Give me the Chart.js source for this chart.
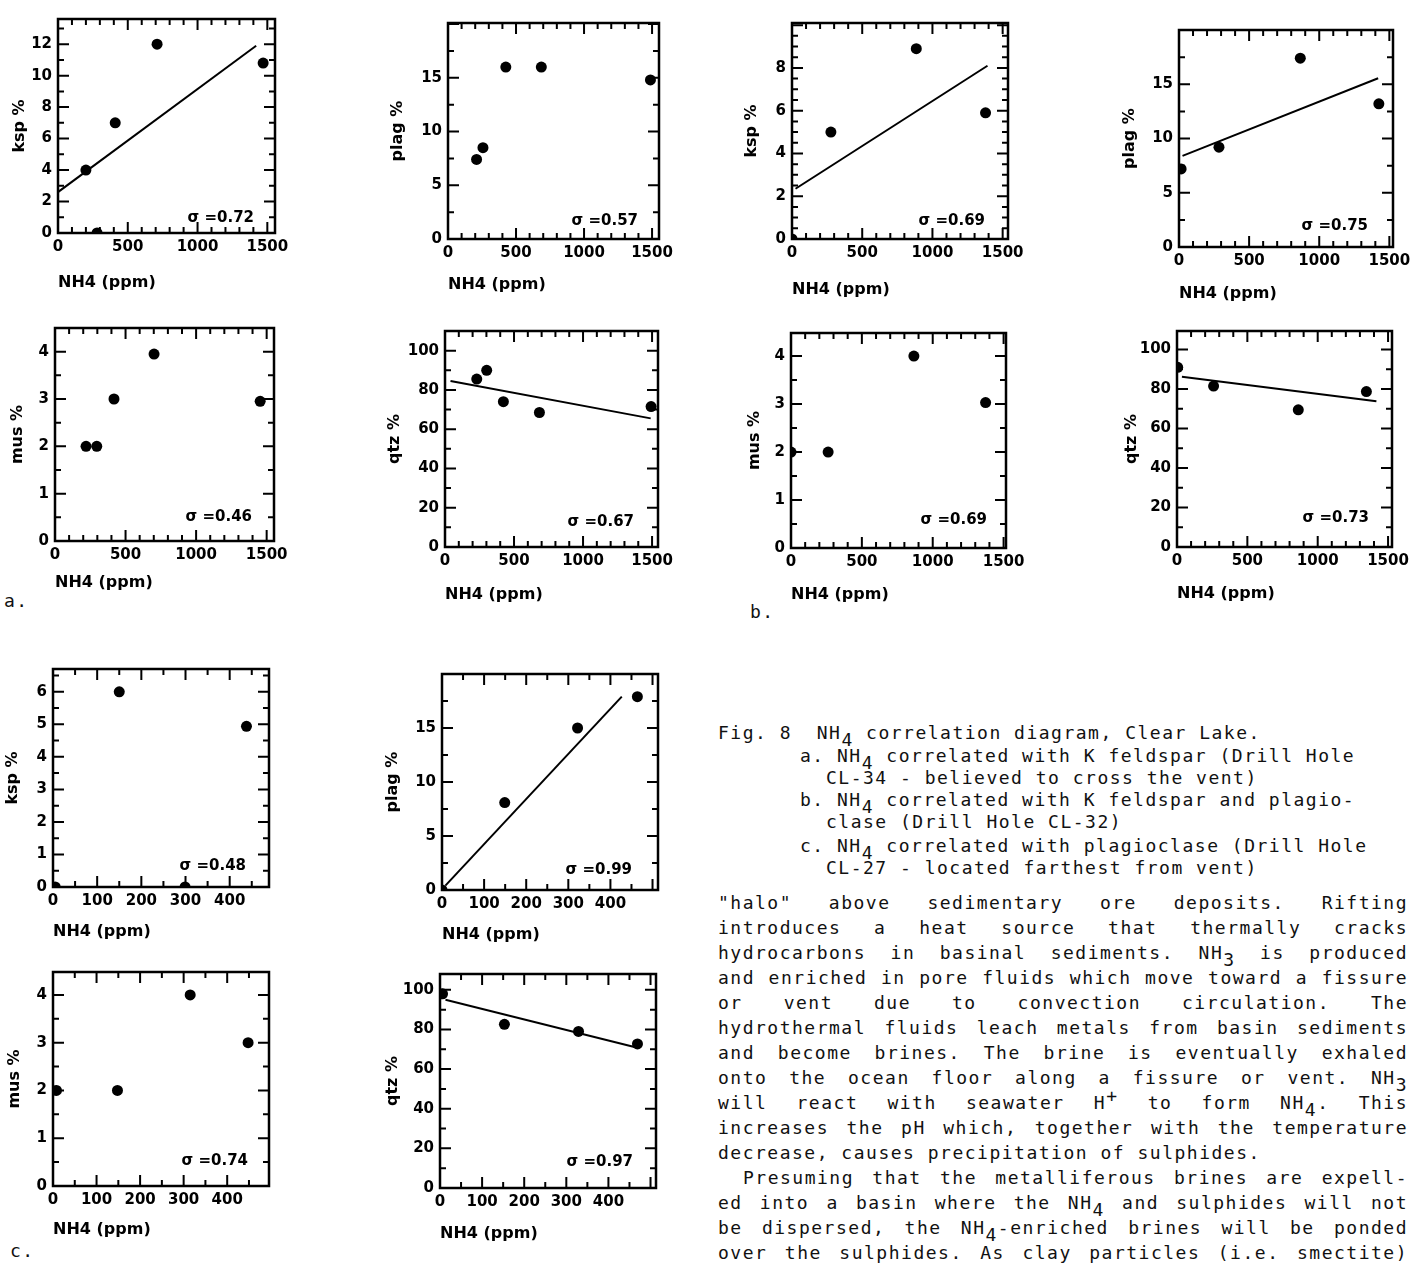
<!DOCTYPE html>
<html>
<head>
<meta charset="utf-8">
<script src="https://cdn.jsdelivr.net/npm/chart.js@4.4.1/dist/chart.umd.min.js"></script>
<style>
  body { margin: 0; width: 1411px; height: 1264px; position: relative; background: #fff; overflow: hidden; }
  .tx { position: absolute; font-family: "DejaVu Sans Mono", monospace; font-size: 18px; letter-spacing: 1.5px; line-height: 22px; color: #111; white-space: pre; }
  .pl { position: absolute; left: 718px; width: 690px; font-family: "DejaVu Sans Mono", monospace; font-size: 18px; letter-spacing: 1.5px; line-height: 22px; color: #111; text-align: justify; text-align-last: justify; white-space: normal; }
  .sub { position: relative; top: 7px; }
  .sup { position: relative; top: -7px; }
</style>
</head>
<body>

<div class="tx" style="left:4px;top:590px">a.</div>
<div class="tx" style="left:750px;top:601px">b.</div>
<div class="tx" style="left:10px;top:1240px">c.</div>

<div class="tx" style="left:718px;top:722px">Fig. 8  NH<span class="sub">4</span> correlation diagram, Clear Lake.</div>
<div class="tx" style="left:800px;top:745px">a. NH<span class="sub">4</span> correlated with K feldspar (Drill Hole</div>
<div class="tx" style="left:826px;top:767px">CL-34 - believed to cross the vent)</div>
<div class="tx" style="left:800px;top:789px">b. NH<span class="sub">4</span> correlated with K feldspar and plagio-</div>
<div class="tx" style="left:826px;top:811px">clase (Drill Hole CL-32)</div>
<div class="tx" style="left:800px;top:835px">c. NH<span class="sub">4</span> correlated with plagioclase (Drill Hole</div>
<div class="tx" style="left:826px;top:857px">CL-27 - located farthest from vent)</div>

<div class="pl" style="top:892px">"halo" above sedimentary ore deposits. Rifting</div>
<div class="pl" style="top:917px">introduces a heat source that thermally cracks</div>
<div class="pl" style="top:942px">hydrocarbons in basinal sediments. NH<span class="sub">3</span> is produced</div>
<div class="pl" style="top:967px">and enriched in pore fluids which move toward a fissure</div>
<div class="pl" style="top:992px">or vent due to convection circulation. The</div>
<div class="pl" style="top:1017px">hydrothermal fluids leach metals from basin sediments</div>
<div class="pl" style="top:1042px">and become brines. The brine is eventually exhaled</div>
<div class="pl" style="top:1067px">onto the ocean floor along a fissure or vent. NH<span class="sub">3</span></div>
<div class="pl" style="top:1092px">will react with seawater H<span class="sup">+</span> to form NH<span class="sub">4</span>. This</div>
<div class="pl" style="top:1117px">increases the pH which, together with the temperature</div>
<div class="pl" style="top:1142px;text-align-last:left">decrease, causes precipitation of sulphides.</div>
<div class="pl" style="top:1167px;padding-left:25px;width:665px">Presuming that the metalliferous brines are expell-</div>
<div class="pl" style="top:1192px">ed into a basin where the NH<span class="sub">4</span> and sulphides will not</div>
<div class="pl" style="top:1217px">be dispersed, the NH<span class="sub">4</span>-enriched brines will be ponded</div>
<div class="pl" style="top:1242px">over the sulphides. As clay particles (i.e. smectite)</div>

<script>
// tick labels
const ticksNH4ab = [0, 500, 1000, 1500];
const ticksNH4c = [0, 100, 200, 300, 400];
const ticksKspA = [0, 2, 4, 6, 8, 10, 12];
const ticksKspB = [0, 2, 4, 6, 8];
const ticksKspC = [0, 1, 2, 3, 4, 5, 6];
const ticksPlag = [0, 5, 10, 15];
const ticksMus = [0, 1, 2, 3, 4];
const ticksQtz = [0, 20, 40, 60, 80, 100];

// a. Drill Hole CL-34
const aKspNH4 = [200, 280, 410, 710, 1470];
const aKsp = [4, 0, 7, 12, 10.8];
const aKspFitNH4 = [0, 1420];
const aKspFit = [2.6, 11.9];
const aPlagNH4 = [210, 257, 425, 686, 1488];
const aPlag = [7.4, 8.5, 16, 16, 14.8];
const aMusNH4 = [220, 296, 418, 702, 1454];
const aMus = [2, 2, 3, 3.95, 2.95];
const aQtzNH4 = [230, 302, 423, 684, 1493];
const aQtz = [85.5, 90, 74, 68.5, 71.5];
const aQtzFitNH4 = [40, 1490];
const aQtzFit = [84.5, 65.5];

// b. Drill Hole CL-32
const bKspNH4 = [0, 277, 885, 1378];
const bKsp = [0, 5, 8.9, 5.9];
const bKspFitNH4 = [25, 1392];
const bKspFit = [2.35, 8.1];
const bPlagNH4 = [15, 285, 865, 1425];
const bPlag = [7.2, 9.2, 17.4, 13.2];
const bPlagFitNH4 = [25, 1420];
const bPlagFit = [8.4, 15.55];
const bMusNH4 = [0, 262, 867, 1373];
const bMus = [2, 2, 4, 3.03];
const bQtzNH4 = [5, 260, 862, 1346];
const bQtz = [91, 81.5, 69.5, 78.7];
const bQtzFitNH4 = [35, 1417];
const bQtzFit = [86.2, 73.8];

// c. Drill Hole CL-27
const cKspNH4 = [5, 150, 299, 438];
const cKsp = [0, 6, 0, 4.94];
const cPlagNH4 = [0, 149, 322, 464];
const cPlag = [0, 8.1, 15, 17.9];
const cPlagFitNH4 = [8, 427];
const cPlagFit = [0.4, 17.9];
const cMusNH4 = [8, 148, 315, 448];
const cMus = [2, 2, 4, 3];
const cQtzNH4 = [6, 153, 329, 469];
const cQtz = [98, 82.6, 79, 72.7];
const cQtzFitNH4 = [13, 464];
const cQtzFit = [95, 71];

const YW = 70, XH = 70, PT = 10, PR = 40;
const FONT = 'DejaVu Sans';

// box = plot frame in page pixels; xo/yo = axis title offsets; sr/sb = sigma label offsets
const panels = [
  { box: [58, 14, 275, 233], x: aKspNH4, y: aKsp, fx: aKspFitNH4, fy: aKspFit, xmax: 1555, ymax: 13.6, xt: ticksNH4ab, yt: ticksKspA, xminor: 100, yminor: 1, ytitle: 'ksp %', xo: 50, yo: 38, sigma: 'σ =0.72', sr: 21, sb: 15 },
  { box: [448, 18, 659, 239], x: aPlagNH4, y: aPlag, xmax: 1551, ymax: 20.1, xt: ticksNH4ab, yt: ticksPlag, xminor: 100, yminor: 2.5, ytitle: 'plag %', xo: 46, yo: 50, sigma: 'σ =0.57', sr: 21, sb: 18 },
  { box: [792, 18, 1008, 239], x: bKspNH4, y: bKsp, fx: bKspFitNH4, fy: bKspFit, xmax: 1538, ymax: 10.1, xt: ticksNH4ab, yt: ticksKspB, xminor: 100, yminor: 0.5, ytitle: 'ksp %', xo: 51, yo: 40, sigma: 'σ =0.69', sr: 23, sb: 18 },
  { box: [1179, 25, 1393, 247], x: bPlagNH4, y: bPlag, fx: bPlagFitNH4, fy: bPlagFit, xmax: 1526, ymax: 20, xt: ticksNH4ab, yt: ticksPlag, xminor: 100, yminor: 2.5, ytitle: 'plag %', xo: 47, yo: 49, sigma: 'σ =0.75', sr: 25, sb: 21 },
  { box: [55, 323, 274, 541], x: aMusNH4, y: aMus, xmax: 1552, ymax: 4.5, xt: ticksNH4ab, yt: ticksMus, xminor: 100, yminor: 0.5, ytitle: 'mus %', xo: 42, yo: 37, sigma: 'σ =0.46', sr: 22, sb: 24 },
  { box: [445, 326, 658, 547], x: aQtzNH4, y: aQtz, fx: aQtzFitNH4, fy: aQtzFit, xmax: 1543, ymax: 110, xt: ticksNH4ab, yt: ticksQtz, xminor: 100, yminor: 10, ytitle: 'qtz %', xo: 48, yo: 50, sigma: 'σ =0.67', sr: 24, sb: 25 },
  { box: [791, 328, 1006, 548], x: bMusNH4, y: bMus, xmax: 1517, ymax: 4.48, xt: ticksNH4ab, yt: ticksMus, xminor: 100, yminor: 0.5, ytitle: 'mus %', xo: 47, yo: 36, sigma: 'σ =0.69', sr: 19, sb: 28 },
  { box: [1177, 326, 1392, 547], x: bQtzNH4, y: bQtz, fx: bQtzFitNH4, fy: bQtzFit, xmax: 1528, ymax: 109.4, xt: ticksNH4ab, yt: ticksQtz, xminor: 100, yminor: 10, ytitle: 'qtz %', xo: 47, yo: 45, sigma: 'σ =0.73', sr: 23, sb: 29 },
  { box: [53, 664, 269, 887], x: cKspNH4, y: cKsp, xmax: 489, ymax: 6.7, xt: ticksNH4c, yt: ticksKspC, xminor: 50, yminor: 0.5, ytitle: 'ksp %', xo: 45, yo: 40, sigma: 'σ =0.48', sr: 23, sb: 21 },
  { box: [442, 669, 658, 890], x: cPlagNH4, y: cPlag, fx: cPlagFitNH4, fy: cPlagFit, xmax: 513, ymax: 20, xt: ticksNH4c, yt: ticksPlag, xminor: 50, yminor: 2.5, ytitle: 'plag %', xo: 45, yo: 49, sigma: 'σ =0.99', sr: 26, sb: 20 },
  { box: [53, 967, 269, 1186], x: cMusNH4, y: cMus, xmax: 496, ymax: 4.48, xt: ticksNH4c, yt: ticksMus, xminor: 50, yminor: 0.5, ytitle: 'mus %', xo: 44, yo: 38, sigma: 'σ =0.74', sr: 21, sb: 25 },
  { box: [440, 969, 656, 1188], x: cQtzNH4, y: cQtz, fx: cQtzFitNH4, fy: cQtzFit, xmax: 513, ymax: 108, xt: ticksNH4c, yt: ticksQtz, xminor: 50, yminor: 10, ytitle: 'qtz %', xo: 46, yo: 47, sigma: 'σ =0.97', sr: 23, sb: 26 },
];

function steps(max, minor, major) {
  const out = [];
  for (let i = 1; i * minor < max - 1e-9; i++) {
    const v = i * minor;
    out.push([v, Math.abs(v / major - Math.round(v / major)) < 1e-6]);
  }
  return out;
}

// box with inward tick marks on all four sides, plus the sigma note
const frame = {
  id: 'frame',
  afterDatasetsDraw(chart, args, o) {
    const { ctx, chartArea: a, scales: { x, y } } = chart;
    ctx.save();
    ctx.strokeStyle = '#000';
    ctx.lineWidth = 2;
    ctx.beginPath();
    steps(o.xmax, o.xminor, o.xmajor).forEach(([v, big]) => {
      const px = x.getPixelForValue(v), len = big ? 11 : 6;
      ctx.moveTo(px, a.bottom); ctx.lineTo(px, a.bottom - len);
      ctx.moveTo(px, a.top); ctx.lineTo(px, a.top + len);
    });
    steps(o.ymax, o.yminor, o.ymajor).forEach(([v, big]) => {
      const py = y.getPixelForValue(v), len = big ? 11 : 6;
      ctx.moveTo(a.left, py); ctx.lineTo(a.left + len, py);
      ctx.moveTo(a.right, py); ctx.lineTo(a.right - len, py);
    });
    ctx.stroke();
    ctx.lineWidth = 2.5;
    ctx.strokeRect(a.left, a.top, a.right - a.left, a.bottom - a.top);
    ctx.fillStyle = '#000';
    ctx.font = 'bold 15px ' + FONT;
    ctx.textAlign = 'right';
    ctx.textBaseline = 'middle';
    ctx.fillText(o.sigma, a.right - o.sr, a.bottom - o.sb);
    ctx.restore();
  }
};

panels.forEach(p => {
  const [l, t, r, b] = p.box;
  const w = r - l + YW + PR, h = b - t + PT + XH;
  const cv = document.createElement('canvas');
  cv.width = w; cv.height = h;
  cv.style.cssText = `position:absolute;left:${l - YW}px;top:${t - PT}px;width:${w}px;height:${h}px`;
  document.body.appendChild(cv);

  const datasets = [{
    data: p.x.map((v, i) => ({ x: v, y: p.y[i] })),
    pointRadius: 5.5, pointHoverRadius: 5.5,
    pointBackgroundColor: '#000', pointBorderColor: '#000', pointBorderWidth: 0,
    showLine: false
  }];
  if (p.fx) datasets.push({
    data: p.fx.map((v, i) => ({ x: v, y: p.fy[i] })),
    showLine: true, borderColor: '#000', borderWidth: 2, pointRadius: 0, fill: false
  });

  const tickFont = { family: FONT, size: 15, weight: 'bold' };
  const titleFont = { family: FONT, size: 16, weight: 'bold' };
  new Chart(cv, {
    type: 'scatter',
    data: { datasets },
    options: {
      responsive: false,
      animation: false,
      events: [],
      layout: { padding: { top: PT, right: PR, left: 0, bottom: 0 } },
      plugins: {
        legend: { display: false },
        tooltip: { enabled: false },
        frame: {
          xmax: p.xmax, ymax: p.ymax, xminor: p.xminor, yminor: p.yminor,
          xmajor: p.xt[1], ymajor: p.yt[1], sigma: p.sigma, sr: p.sr, sb: p.sb
        }
      },
      scales: {
        x: {
          type: 'linear', min: 0, max: p.xmax,
          grid: { display: false, drawTicks: false },
          border: { display: false },
          afterBuildTicks: s => { s.ticks = p.xt.map(v => ({ value: v })); },
          afterFit: s => { s.height = XH; },
          ticks: { font: tickFont, color: '#000', padding: 5, maxRotation: 0, autoSkip: false, callback: v => String(v) },
          title: { display: true, text: 'NH4 (ppm)', align: 'start', color: '#000', font: titleFont, padding: { top: 0, bottom: XH - p.xo - 9.6 } }
        },
        y: {
          type: 'linear', min: 0, max: p.ymax,
          grid: { display: false, drawTicks: false },
          border: { display: false },
          afterBuildTicks: s => { s.ticks = p.yt.map(v => ({ value: v })); },
          afterFit: s => { s.width = YW; },
          ticks: { font: tickFont, color: '#000', padding: 6, autoSkip: false, callback: v => String(v) },
          title: { display: true, text: p.ytitle, color: '#000', font: titleFont, padding: { top: YW - p.yo - 9.6, bottom: 0 } }
        }
      }
    },
    plugins: [frame]
  });
});
</script>
</body>
</html>
